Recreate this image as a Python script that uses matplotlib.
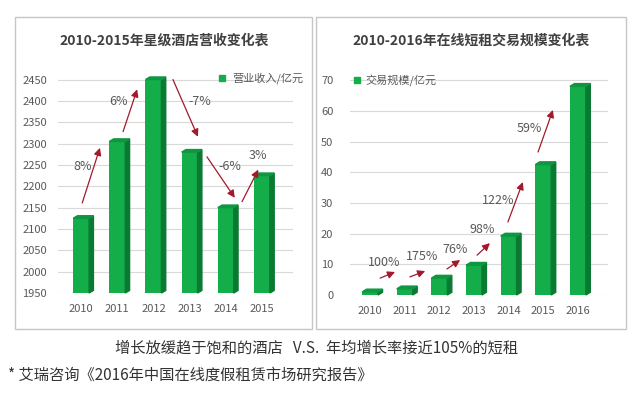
"""Hotel revenue vs. online short-term rental volume, two 3D-ish bar panels."""

import matplotlib
matplotlib.use("Agg")
import matplotlib.pyplot as plt
from matplotlib.patches import Polygon, Rectangle

plt.rcParams["font.family"] = ["Noto Sans CJK SC", "DejaVu Sans"]

# left panel: star hotel revenue (100M CNY)
hotel_years = [2010, 2011, 2012, 2013, 2014, 2015]
hotel_revenue = [2125, 2305, 2450, 2280, 2150, 2225]
hotel_growth = ["8%", "6%", "-7%", "-6%", "3%"]
hotel_yticks = [1950, 2000, 2050, 2100, 2150, 2200, 2250, 2300, 2350, 2400, 2450]

# right panel: online short-term rental volume (100M CNY)
rental_years = [2010, 2011, 2012, 2013, 2014, 2015, 2016]
rental_volume = [1.0, 2.0, 5.5, 9.7, 19.2, 42.5, 68.0]
rental_growth = ["100%", "175%", "76%", "98%", "122%", "59%"]
rental_yticks = [0, 10, 20, 30, 40, 50, 60, 70]

FRONT = "#13ad4a"
SIDE = "#0a7a33"
TOP = "#0f9640"
ARROW = "#a3192c"
GREY = "#595959"

W, H = 640, 398


def axes_px(fig, left, top, right, bottom):
    return fig.add_axes([left / W, 1 - bottom / H, (right - left) / W, (bottom - top) / H])


def bars_3d(ax, xs, vals, base, width, dx, dy):
    ax.bar(xs, [v - base for v in vals], bottom=base, width=width, color=FRONT, zorder=3)
    for x, v in zip(xs, vals):
        r = x + width / 2
        l = x - width / 2
        ax.add_patch(Polygon([(r, base), (r + dx, base + dy), (r + dx, v + dy), (r, v)],
                             closed=True, color=SIDE, zorder=3, clip_on=False))
        ax.add_patch(Polygon([(l, v), (l + dx, v + dy), (r + dx, v + dy), (r, v)],
                             closed=True, color=TOP, zorder=3, clip_on=False))


def style(ax, yticks, pad_y):
    for s in ax.spines.values():
        s.set_visible(False)
    ax.set_yticks(yticks)
    ax.grid(axis="y", color="#d9d9d9", linewidth=0.8, zorder=0)
    ax.tick_params(length=0, labelsize=8, labelcolor=GREY)
    ax.tick_params(axis="y", pad=pad_y)
    ax.tick_params(axis="x", pad=8)


def arrow(ax, start, end):
    ax.annotate("", xy=end, xytext=start,
                arrowprops=dict(arrowstyle="-|>", color=ARROW, lw=0.9,
                                mutation_scale=11, shrinkA=0, shrinkB=0), zorder=5)


fig = plt.figure(figsize=(6.4, 3.98), dpi=100)
fig.patch.set_facecolor("white")

# panel frames
fig.patches.append(Rectangle((15 / W, 1 - 329 / H), 297 / W, 312 / H, transform=fig.transFigure,
                             fill=False, edgecolor="#c6c6c6", linewidth=1))
fig.patches.append(Rectangle((316 / W, 1 - 329 / H), 310 / W, 312 / H, transform=fig.transFigure,
                             fill=False, edgecolor="#c6c6c6", linewidth=1))

# ---- left panel ----
ax1 = axes_px(fig, 58, 71, 293, 293)
ax1.set_xlim(2009.36, 2015.86)
ax1.set_ylim(1950, 2470)
style(ax1, hotel_yticks, 8)
ax1.set_xticks(hotel_years)
bars_3d(ax1, hotel_years, hotel_revenue, 1950, 0.44, 0.12, 6)

hotel_arrows = [((2010.03, 2161), (2010.52, 2290)),
                ((2011.16, 2328), (2011.55, 2427)),
                ((2012.54, 2450), (2013.23, 2316)),
                ((2013.48, 2269), (2014.25, 2173)),
                ((2014.45, 2164), (2014.9, 2239))]
hotel_label_pos = [(2010.03, 2246), (2011.02, 2398), (2013.29, 2398), (2014.12, 2246), (2014.9, 2272)]
for (s, e), lab, p in zip(hotel_arrows, hotel_growth, hotel_label_pos):
    arrow(ax1, s, e)
    ax1.text(p[0], p[1], lab, ha="center", va="center", fontsize=9, color=GREY, zorder=6)

fig.text(164 / W, 1 - 41 / H, "2010-2015年星级酒店营收变化表", ha="center", va="center",
         fontsize=10, fontweight="bold", color="#404040")
fig.patches.append(Rectangle((219 / W, 1 - 81 / H), 6 / W, 6 / H, transform=fig.transFigure,
                             color=FRONT))
fig.text(232 / W, 1 - 78 / H, "营业收入/亿元", ha="left", va="center", fontsize=8, color=GREY)

# ---- right panel ----
ax2 = axes_px(fig, 350, 71, 608, 295)
ax2.set_xlim(2009.42, 2016.87)
ax2.set_ylim(0, 73)
style(ax2, rental_yticks, 12)
ax2.set_xticks(rental_years)
bars_3d(ax2, rental_years, rental_volume, 0, 0.46, 0.13, 0.9)

rental_arrows = [((2010.29, 5.5), (2010.72, 7.5)),
                 ((2011.15, 5.9), (2011.59, 7.8)),
                 ((2012.22, 8.5), (2012.6, 11.4)),
                 ((2013.09, 13.0), (2013.46, 16.9)),
                 ((2013.98, 23.8), (2014.41, 36.8)),
                 ((2014.85, 46.6), (2015.28, 60.3))]
rental_label_pos = [(2010.4, 10.7), (2011.5, 12.4), (2012.45, 14.7), (2013.23, 21.2),
                    (2013.69, 30.9), (2014.6, 54.4)]
for (s, e), lab, p in zip(rental_arrows, rental_growth, rental_label_pos):
    arrow(ax2, s, e)
    ax2.text(p[0], p[1], lab, ha="center", va="center", fontsize=9, color=GREY, zorder=6)

fig.text(471 / W, 1 - 41 / H, "2010-2016年在线短租交易规模变化表", ha="center", va="center",
         fontsize=10, fontweight="bold", color="#404040")
fig.patches.append(Rectangle((354 / W, 1 - 83 / H), 6 / W, 6 / H, transform=fig.transFigure,
                             color=FRONT))
fig.text(365 / W, 1 - 80 / H, "交易规模/亿元", ha="left", va="center", fontsize=8, color=GREY)

# ---- captions ----
fig.text(317 / W, 1 - 348 / H, "增长放缓趋于饱和的酒店   V.S.  年均增长率接近105%的短租",
         ha="center", va="center", fontsize=11, color="#333333")
fig.text(8 / W, 1 - 375 / H, "* 艾瑞咨询《2016年中国在线度假租赁市场研究报告》",
         ha="left", va="center", fontsize=11, color="#333333")

fig.savefig("out.png", dpi=100)
